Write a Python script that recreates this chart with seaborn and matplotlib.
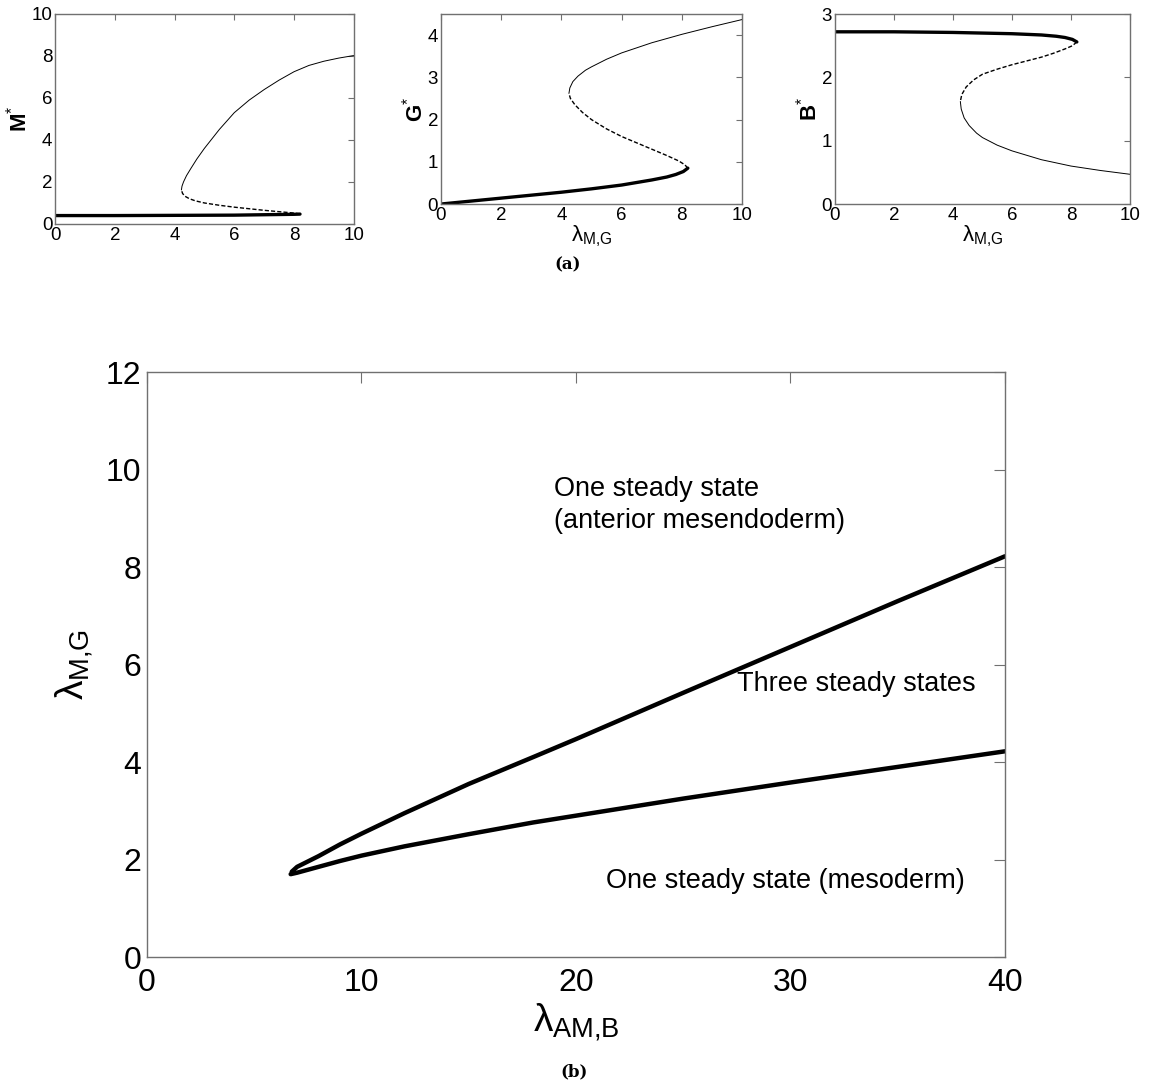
import matplotlib
matplotlib.use("Agg")
import matplotlib.pyplot as plt
import seaborn as sns
import pandas as pd

# panel (a): bifurcation branches vs lambda_M,G
m_stable_x = [0, 2, 4, 6, 7, 8, 8.2]
m_stable_y = [0.4, 0.4, 0.41, 0.42, 0.44, 0.46, 0.47]
m_unstable_x = [8.2, 8, 7, 6, 5.5, 5, 4.7, 4.5, 4.35, 4.27, 4.23]
m_unstable_y = [0.48, 0.52, 0.65, 0.8, 0.89, 1.0, 1.1, 1.2, 1.32, 1.45, 1.62]
m_upper_x = [4.23, 4.25, 4.3, 4.4, 4.55, 4.75, 5, 5.5, 6, 6.5, 7, 7.5, 8, 8.5, 9, 9.5, 10]
m_upper_y = [1.62, 1.8, 2.0, 2.3, 2.65, 3.1, 3.6, 4.5, 5.3, 5.9, 6.4, 6.85, 7.25, 7.55, 7.75, 7.9, 8.02]

g_stable_x = [0, 1, 2, 3, 4, 5, 6, 7, 7.5, 7.8, 8.05, 8.2]
g_stable_y = [0, 0.07, 0.14, 0.21, 0.28, 0.36, 0.45, 0.57, 0.64, 0.7, 0.77, 0.85]
g_unstable_x = [8.2, 8.1, 7.9, 7.5, 7, 6.5, 6, 5.5, 5, 4.7, 4.45, 4.3, 4.25]
g_unstable_y = [0.85, 0.93, 1.02, 1.15, 1.3, 1.45, 1.6, 1.78, 2.0, 2.17, 2.35, 2.5, 2.62]
g_upper_x = [4.25, 4.28, 4.38, 4.55, 4.8, 5, 5.5, 6, 7, 8, 9, 10]
g_upper_y = [2.62, 2.75, 2.9, 3.03, 3.17, 3.25, 3.43, 3.58, 3.82, 4.02, 4.2, 4.37]

b_stable_x = [0, 2, 4, 6, 7, 7.5, 7.8, 8.05, 8.2]
b_stable_y = [2.72, 2.72, 2.71, 2.69, 2.67, 2.65, 2.63, 2.6, 2.56]
b_unstable_x = [8.2, 8.05, 7.8, 7.4, 7, 6.5, 6, 5.5, 5, 4.7, 4.45, 4.3, 4.25]
b_unstable_y = [2.56, 2.5, 2.45, 2.38, 2.32, 2.26, 2.2, 2.13, 2.05, 1.96, 1.85, 1.73, 1.62]
b_lower_x = [4.25, 4.28, 4.38, 4.55, 4.8, 5, 5.5, 6, 7, 8, 9, 10]
b_lower_y = [1.62, 1.5, 1.36, 1.24, 1.12, 1.05, 0.93, 0.84, 0.7, 0.6, 0.53, 0.47]

# panel (b): two-parameter fold curves
fold_upper_x = [6.75, 7, 7.5, 8, 9, 10, 12, 15, 18, 20, 25, 30, 35, 40]
fold_upper_y = [1.75, 1.85, 1.96, 2.07, 2.31, 2.53, 2.95, 3.55, 4.1, 4.47, 5.42, 6.36, 7.3, 8.22]
fold_lower_x = [6.7, 7, 7.5, 8, 9, 10, 12, 15, 18, 20, 25, 30, 35, 40]
fold_lower_y = [1.7, 1.73, 1.79, 1.85, 1.97, 2.08, 2.27, 2.52, 2.76, 2.9, 3.25, 3.58, 3.9, 4.22]

sns.set_style("white")
plt.rcParams["font.family"] = ["Liberation Sans", "DejaVu Sans"]
plt.rcParams["mathtext.fontset"] = "custom"
plt.rcParams["mathtext.rm"] = "Liberation Sans"
plt.rcParams["mathtext.it"] = "Liberation Sans"
plt.rcParams["mathtext.bf"] = "Liberation Sans:bold"
plt.rcParams["text.color"] = "black"
plt.rcParams["axes.labelcolor"] = "black"

fig = plt.figure(figsize=(11.49, 10.83), dpi=100)


def branch(ax, xs, ys, lw, ls="-"):
    df = pd.DataFrame({"x": xs, "y": ys})
    sns.lineplot(data=df, x="x", y="y", ax=ax, sort=False, estimator=None,
                 color="black", linewidth=lw, linestyle=ls)


def style_axes(ax, fs, ticklen):
    for s in ax.spines.values():
        s.set_color("#707070")
        s.set_linewidth(1.0)
    ax.tick_params(direction="in", top=True, right=True, length=ticklen,
                   color="#707070", labelsize=fs, labelcolor="black", pad=2)
    ax.set_xlabel("")
    ax.set_ylabel("")


top_axes = [
    fig.add_axes([0.0479, 0.7932, 0.260, 0.1939]),
    fig.add_axes([0.3838, 0.8116, 0.262, 0.1754]),
    fig.add_axes([0.7267, 0.8116, 0.2567, 0.1754]),
]
panels = [
    (m_stable_x, m_stable_y, m_unstable_x, m_unstable_y, m_upper_x, m_upper_y, 10, [0, 2, 4, 6, 8, 10], "M"),
    (g_stable_x, g_stable_y, g_unstable_x, g_unstable_y, g_upper_x, g_upper_y, 4.5, [0, 1, 2, 3, 4], "G"),
    (b_stable_x, b_stable_y, b_unstable_x, b_unstable_y, b_lower_x, b_lower_y, 3, [0, 1, 2, 3], "B"),
]
for i, (ax, p) in enumerate(zip(top_axes, panels)):
    sx, sy, ux, uy, ox, oy, ymax, yt, name = p
    branch(ax, sx, sy, 2.4)
    branch(ax, ux, uy, 1.0, (0, (3, 1.5)))
    branch(ax, ox, oy, 0.7)
    ax.set_xlim(0, 10)
    ax.set_ylim(0, ymax)
    ax.set_xticks([0, 2, 4, 6, 8, 10])
    ax.set_yticks(yt)
    style_axes(ax, 13.5, 4)
    ax.set_ylabel(r"$\mathbf{%s}^{*}$" % name, fontsize=16, labelpad=0)
    if i > 0:
        ax.set_xlabel(r"$\lambda_{\mathrm{M{,}G}}$", fontsize=16, labelpad=0)

fig.text(0.494, 0.755, "(a)", ha="center", va="center", fontsize=12,
         fontweight="bold", family="DejaVu Serif")

ax = fig.add_axes([0.1279, 0.1163, 0.7467, 0.5402])
branch(ax, fold_upper_x, fold_upper_y, 3.2)
branch(ax, fold_lower_x, fold_lower_y, 3.2)
ax.set_xlim(0, 40)
ax.set_ylim(0, 12)
ax.set_xticks([0, 10, 20, 30, 40])
ax.set_yticks([0, 2, 4, 6, 8, 10, 12])
style_axes(ax, 23, 8)
ax.tick_params(axis="x", pad=8)
ax.tick_params(axis="y", pad=4)
ax.set_xlabel(r"$\lambda_{\mathrm{AM{,}B}}$", fontsize=28, labelpad=2)
ax.set_ylabel(r"$\lambda_{\mathrm{M{,}G}}$", fontsize=28, labelpad=8)

ax.text(19.0, 9.87, "One steady state\n(anterior mesendoderm)", fontsize=19.5,
        ha="left", va="top", linespacing=1.3)
ax.text(27.5, 5.6, "Three steady states", fontsize=19.5, ha="left", va="center")
ax.text(21.4, 1.55, "One steady state (mesoderm)", fontsize=19.5, ha="left", va="center")

fig.text(0.5, 0.01, "(b)", ha="center", va="center", fontsize=12,
         fontweight="bold", family="DejaVu Serif")

plt.savefig("out.png", dpi=100)
